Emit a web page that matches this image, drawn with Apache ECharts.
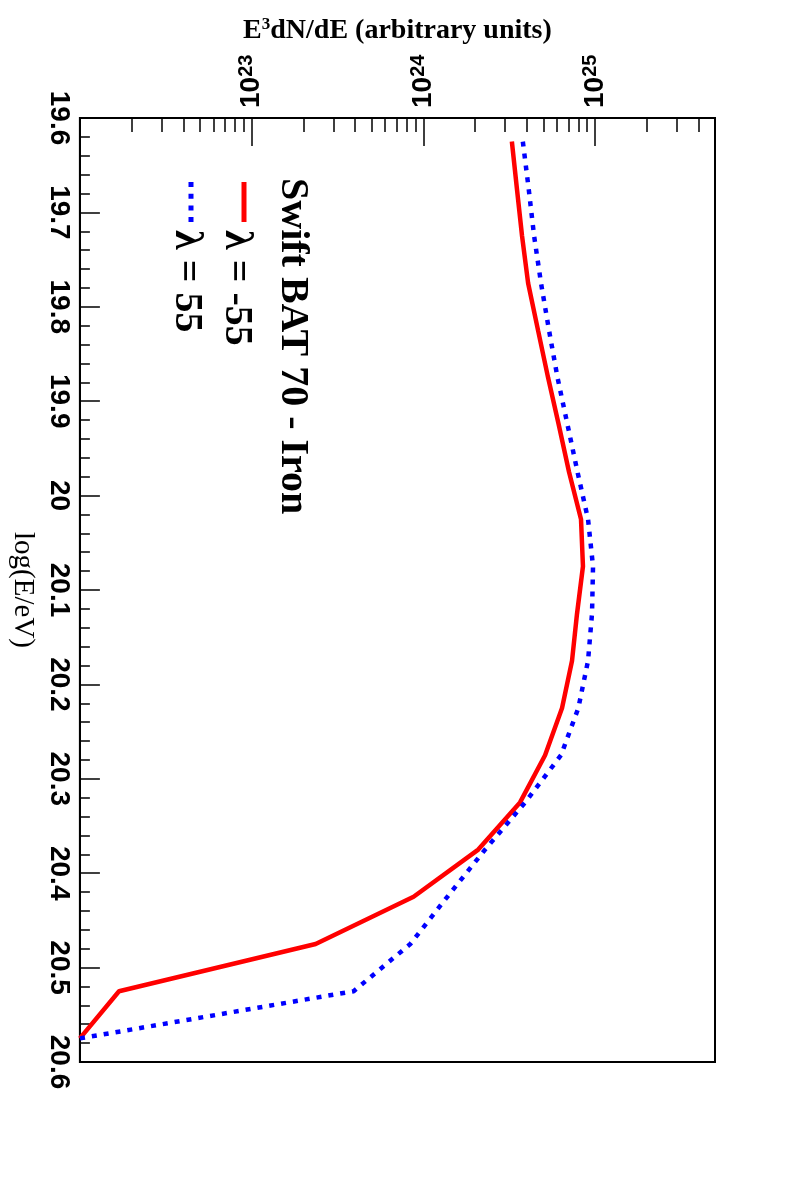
<!DOCTYPE html>
<html>
<head>
<meta charset="utf-8">
<script src="https://cdn.jsdelivr.net/npm/echarts@6/dist/echarts.min.js"></script>
<style>
  html, body { margin: 0; padding: 0; background: #fff; }
  #main { width: 794px; height: 1182px; }
</style>
</head>
<body>
<div id="main"></div>
<script>
// log(E/eV) bin centres
var logE = [19.625, 19.675, 19.725, 19.775, 19.825, 19.875, 19.925, 19.975, 20.025, 20.075,
            20.125, 20.175, 20.225, 20.275, 20.325, 20.375, 20.425, 20.475, 20.525, 20.575];
// E^3 dN/dE, lambda = -55 (red solid)
var fluxMinus55 = [3.28e24, 3.51e24, 3.76e24, 4.08e24, 4.66e24, 5.33e24, 6.15e24, 7.06e24, 8.29e24, 8.51e24,
                   7.86e24, 7.35e24, 6.43e24, 5.12e24, 3.66e24, 2.09e24, 8.78e23, 2.36e23, 1.69e22, 1.0e22];
// E^3 dN/dE, lambda = 55 (blue dotted)
var fluxPlus55 = [3.80e24, 4.11e24, 4.42e24, 4.85e24, 5.40e24, 6.05e24, 6.92e24, 7.91e24, 9.11e24, 9.74e24,
                  9.61e24, 9.11e24, 8.0e24, 6.34e24, 3.92e24, 2.29e24, 1.38e24, 8.40e23, 3.93e23, 1.0e22];
// axis ranges and ticks
var fluxMin = 1e22, fluxMax = 5e25;
var decades = [23, 24, 25];
var eMin = 19.6, eMax = 20.6, eStep = 0.1;

// minor ticks 2..9 x 10^n inside the range (log space)
var minorTicks = [];
for (var n = 22; n <= 25; n++) {
    for (var k = 2; k <= 9; k++) {
        if (k * Math.pow(10, n) <= fluxMax) minorTicks.push(n + Math.log10(k));
    }
}

function pairs(flux) {
    return flux.map(function (f, i) { return [Math.log10(f), logE[i]]; });
}

var sans = 'Liberation Sans, Arial, sans-serif';
var serif = 'Liberation Serif, Times New Roman, serif';

var chart = echarts.init(document.getElementById('main'));
chart.setOption({
    backgroundColor: '#fff',
    animation: false,
    grid: {
        left: 79, top: 118, right: 79, bottom: 120,
        show: true, borderColor: '#000', borderWidth: 2, backgroundColor: 'transparent'
    },
    xAxis: [{
        type: 'value',
        position: 'top',
        min: Math.log10(fluxMin),
        max: Math.log10(fluxMax),
        interval: 1,
        name: '{b|E}{sup|3}{b|dN/dE (arbitrary units)}',
        nameLocation: 'middle',
        nameGap: 72,
        nameTextStyle: {
            rich: {
                b: { fontFamily: serif, fontWeight: 'bold', fontSize: 28, color: '#000', lineHeight: 30 },
                sup: { fontFamily: serif, fontWeight: 'bold', fontSize: 17, color: '#000', verticalAlign: 'top', lineHeight: 12 }
            }
        },
        axisLine: { show: true, lineStyle: { color: '#000', width: 2 } },
        axisTick: { show: true, inside: true, length: 28, lineStyle: { color: '#000', width: 1.5 }, customValues: decades },
        axisLabel: {
            show: true,
            rotate: -90,
            margin: 10,
            customValues: decades,
            formatter: function (v) { return '{b|10}{sup|' + Math.round(v) + '}'; },
            rich: {
                b: { fontFamily: sans, fontWeight: 'bold', fontSize: 28, color: '#000', lineHeight: 30 },
                sup: { fontFamily: sans, fontWeight: 'bold', fontSize: 20, color: '#000', verticalAlign: 'top', lineHeight: 18 }
            }
        },
        splitLine: { show: false }
    }, {
        type: 'value',
        position: 'top',
        min: Math.log10(fluxMin),
        max: Math.log10(fluxMax),
        interval: 1,
        axisLine: { show: false },
        axisTick: { show: true, inside: true, length: 14, lineStyle: { color: '#000', width: 1.5 }, customValues: minorTicks },
        axisLabel: { show: false },
        splitLine: { show: false }
    }],
    yAxis: {
        type: 'value',
        inverse: true,
        min: eMin,
        max: eMax,
        interval: eStep,
        name: 'log(E/eV)',
        nameLocation: 'middle',
        nameRotate: -90,
        nameGap: 33,
        nameTextStyle: { fontFamily: serif, fontSize: 29, color: '#000' },
        axisLine: { show: true, lineStyle: { color: '#000', width: 2 } },
        axisTick: { show: true, inside: true, length: 20, lineStyle: { color: '#000', width: 1.5 } },
        minorTick: { show: true, splitNumber: 5, length: 10, lineStyle: { color: '#000', width: 1.5 } },
        axisLabel: {
            rotate: -90,
            margin: 7,
            fontFamily: sans, fontWeight: 'bold', fontSize: 28, color: '#000',
            showMinLabel: true, showMaxLabel: true,
            formatter: function (v) { return String(Math.round(v * 10) / 10); }
        },
        splitLine: { show: false }
    },
    series: [{
        name: '\u03bb = -55',
        type: 'line',
        data: pairs(fluxMinus55),
        showSymbol: false,
        lineStyle: { color: '#ff0000', width: 4.5 }
    }, {
        name: '\u03bb = 55',
        type: 'line',
        data: pairs(fluxPlus55),
        showSymbol: false,
        lineStyle: { color: '#0000ff', width: 4.5, type: [5, 7], cap: 'butt' }
    }],
    graphic: [
        { type: 'text', x: 292, y: 178, rotation: -Math.PI / 2,
          style: { text: 'Swift BAT 70 - Iron', font: 'bold 40px ' + serif, fill: '#000', textAlign: 'left', textVerticalAlign: 'middle' } },
        { type: 'line', shape: { x1: 244, y1: 182, x2: 244, y2: 222 },
          style: { stroke: '#ff0000', lineWidth: 5 } },
        { type: 'text', x: 236, y: 230, rotation: -Math.PI / 2,
          style: { text: '\u03bb = -55', font: 'bold 40px ' + serif, fill: '#000', textAlign: 'left', textVerticalAlign: 'middle' } },
        { type: 'line', shape: { x1: 191, y1: 182, x2: 191, y2: 222 },
          style: { stroke: '#0000ff', lineWidth: 5, lineDash: [5, 6.7] } },
        { type: 'text', x: 186, y: 230, rotation: -Math.PI / 2,
          style: { text: '\u03bb = 55', font: 'bold 40px ' + serif, fill: '#000', textAlign: 'left', textVerticalAlign: 'middle' } }
    ]
});
</script>
</body>
</html>
